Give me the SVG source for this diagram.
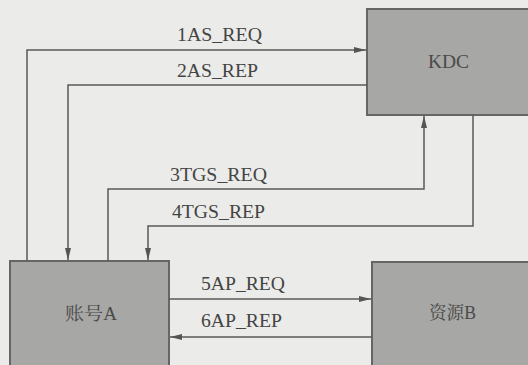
<svg xmlns="http://www.w3.org/2000/svg" width="528" height="365" viewBox="0 0 528 365">
<defs>
<marker id="ah" markerWidth="12" markerHeight="6" refX="12" refY="3" orient="auto" markerUnits="userSpaceOnUse">
<path d="M0,0 L12,3 L0,6 Z" fill="#555"/>
</marker>
<style>
.box{fill:#a7a7a5;stroke:#666;stroke-width:2}
.ln{fill:none;stroke:#5a5a5a;stroke-width:1.5}
.lbl{font-family:"Liberation Serif","Noto Sans CJK SC",serif;font-size:18px;fill:#444}
.nt{font-family:"Liberation Serif","Noto Serif CJK SC","Noto Sans CJK SC",serif;font-size:18px;fill:#4a4a4a}
</style>
</defs>
<rect width="528" height="365" fill="#ebebe9"/>
<g id="kdc"><rect class="box" x="367" y="9" width="162" height="106"/><text class="nt" x="428" y="68" textLength="41" lengthAdjust="spacingAndGlyphs">KDC</text></g>
<g id="accountA"><rect class="box" x="10" y="261" width="159" height="106"/><text class="nt" x="65" y="320" textLength="52" lengthAdjust="spacingAndGlyphs">账号A</text></g>
<g id="resourceB"><rect class="box" x="372" y="262" width="157" height="105"/><text class="nt" x="429" y="319" textLength="47" lengthAdjust="spacingAndGlyphs">资源B</text></g>
<g id="connectors">
<path class="ln" d="M27,261 V50 H366" marker-end="url(#ah)"/>
<path class="ln" d="M367,85 H68 V260" marker-end="url(#ah)"/>
<path class="ln" d="M108,261 V189 H424 V116" marker-end="url(#ah)"/>
<path class="ln" d="M473,115 V226 H148 V260" marker-end="url(#ah)"/>
<path class="ln" d="M169,299 H371" marker-end="url(#ah)"/>
<path class="ln" d="M372,337 H170" marker-end="url(#ah)"/>
<text class="lbl" x="177" y="41" textLength="85" lengthAdjust="spacingAndGlyphs">1AS_REQ</text>
<text class="lbl" x="177" y="77" textLength="81" lengthAdjust="spacingAndGlyphs">2AS_REP</text>
<text class="lbl" x="170" y="181" textLength="97" lengthAdjust="spacingAndGlyphs">3TGS_REQ</text>
<text class="lbl" x="172" y="218" textLength="93" lengthAdjust="spacingAndGlyphs">4TGS_REP</text>
<text class="lbl" x="201" y="290" textLength="84" lengthAdjust="spacingAndGlyphs">5AP_REQ</text>
<text class="lbl" x="201" y="327" textLength="81" lengthAdjust="spacingAndGlyphs">6AP_REP</text>
</g>
</svg>
